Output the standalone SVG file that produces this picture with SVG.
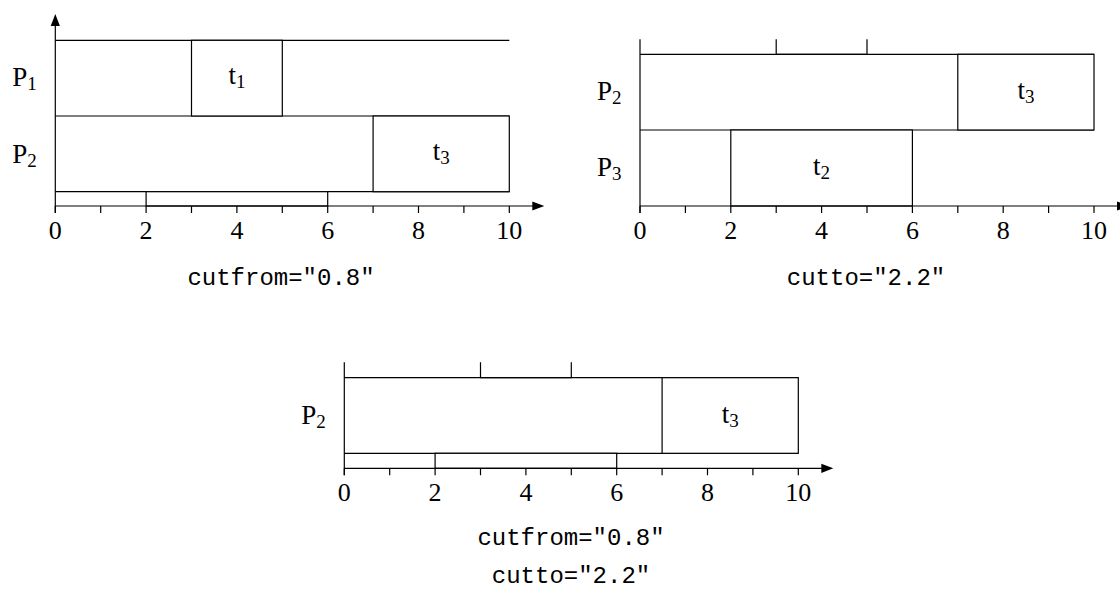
<svg xmlns="http://www.w3.org/2000/svg" width="1120" height="592" viewBox="0 0 1120 592">
<style>
.ln{stroke:#000;stroke-width:1.2;fill:none}
.bx{stroke:#000;stroke-width:1.2;fill:#fff}
.tk{stroke:#000;stroke-width:1.2}
.num{font-family:"Liberation Serif","DejaVu Serif",serif;font-size:26px;fill:#000;text-anchor:middle}
.lab{font-family:"Liberation Serif","DejaVu Serif",serif;font-size:27px;fill:#000}
.sub{font-size:19px}
.cap{font-family:"Liberation Mono","DejaVu Sans Mono",monospace;font-size:24px;fill:#000;text-anchor:middle}
.ah{fill:#000}
</style>
<defs>
<g id="ticks">
<line class="ln" x1="0" y1="0" x2="480" y2="0"/>
<polygon class="ah" points="477,-4.6 489,0 477,4.6"/>
<path class="tk" d="M0,0V7M45.4,0V7M90.8,0V7M136.2,0V7M181.6,0V7M227,0V7M272.4,0V7M317.8,0V7M363.2,0V7M408.6,0V7M454,0V7"/>
</g>
</defs>

<!-- Diagram 1: cutfrom -->
<g id="diagram1" transform="translate(55.3,206)">
<g id="d1-rows">
<line class="ln" x1="0" y1="-165.7" x2="454" y2="-165.7"/>
<line class="ln" x1="0" y1="-90" x2="454" y2="-90"/>
<line class="ln" x1="0" y1="-14.3" x2="454" y2="-14.3"/>
</g>
<g id="d1-t1"><rect class="bx" x="136.2" y="-165.7" width="90.8" height="75.7"/>
<text class="lab" x="181.6" y="-122" text-anchor="middle">t<tspan class="sub" dy="4">1</tspan></text></g>
<g id="d1-t3"><rect class="bx" x="317.8" y="-90" width="136.2" height="75.7"/>
<text class="lab" x="386" y="-46" text-anchor="middle">t<tspan class="sub" dy="4">3</tspan></text></g>
<g id="d1-t2"><rect class="bx" x="90.8" y="-14.3" width="181.6" height="14.3"/></g>
<g id="d1-axes">
<line class="ln" x1="0" y1="7" x2="0" y2="-181"/>
<polygon class="ah" points="-4.6,-180 0,-192 4.6,-180"/>
<use href="#ticks"/>
<text class="num" x="0" y="33">0</text>
<text class="num" x="90.8" y="33">2</text>
<text class="num" x="181.6" y="33">4</text>
<text class="num" x="272.4" y="33">6</text>
<text class="num" x="363.2" y="33">8</text>
<text class="num" x="454" y="33">10</text>
</g>
<text class="lab" x="-43" y="-120">P<tspan class="sub" dy="4">1</tspan></text>
<text class="lab" x="-43" y="-43">P<tspan class="sub" dy="4">2</tspan></text>
</g>
<text class="cap" x="281" y="285">cutfrom="0.8"</text>

<!-- Diagram 2: cutto -->
<g id="diagram2" transform="translate(640,206)">
<g id="d2-rows">
<line class="ln" x1="0" y1="-151.7" x2="454" y2="-151.7"/>
<line class="ln" x1="0" y1="-76" x2="454" y2="-76"/>
</g>
<g id="d2-t1"><path class="ln" d="M136.2,-166.7 V-151.7 H227 V-166.7"/></g>
<g id="d2-t3"><rect class="bx" x="317.8" y="-151.7" width="136.2" height="75.7"/>
<text class="lab" x="386" y="-107" text-anchor="middle">t<tspan class="sub" dy="4">3</tspan></text></g>
<g id="d2-t2"><rect class="bx" x="90.8" y="-76" width="181.6" height="76"/>
<text class="lab" x="181.6" y="-31" text-anchor="middle">t<tspan class="sub" dy="4">2</tspan></text></g>
<g id="d2-axes">
<line class="ln" x1="0" y1="7" x2="0" y2="-166.7"/>
<use href="#ticks"/>
<text class="num" x="0" y="33">0</text>
<text class="num" x="90.8" y="33">2</text>
<text class="num" x="181.6" y="33">4</text>
<text class="num" x="272.4" y="33">6</text>
<text class="num" x="363.2" y="33">8</text>
<text class="num" x="454" y="33">10</text>
</g>
<text class="lab" x="-43" y="-106">P<tspan class="sub" dy="4">2</tspan></text>
<text class="lab" x="-43" y="-30">P<tspan class="sub" dy="4">3</tspan></text>
</g>
<text class="cap" x="866" y="285">cutto="2.2"</text>

<!-- Diagram 3: cutfrom + cutto -->
<g id="diagram3" transform="translate(344.3,468.3)">
<g id="d3-rows">
<line class="ln" x1="0" y1="-90.6" x2="454" y2="-90.6"/>
<line class="ln" x1="0" y1="-15" x2="454" y2="-15"/>
</g>
<g id="d3-t1"><path class="ln" d="M136.2,-106 V-90.6 H227 V-106"/></g>
<g id="d3-t3"><rect class="bx" x="317.8" y="-90.6" width="136.2" height="75.6"/>
<text class="lab" x="386" y="-45" text-anchor="middle">t<tspan class="sub" dy="4">3</tspan></text></g>
<g id="d3-t2"><rect class="bx" x="90.8" y="-15" width="181.6" height="15"/></g>
<g id="d3-axes">
<line class="ln" x1="0" y1="7" x2="0" y2="-106"/>
<use href="#ticks"/>
<text class="num" x="0" y="33">0</text>
<text class="num" x="90.8" y="33">2</text>
<text class="num" x="181.6" y="33">4</text>
<text class="num" x="272.4" y="33">6</text>
<text class="num" x="363.2" y="33">8</text>
<text class="num" x="454" y="33">10</text>
</g>
<text class="lab" x="-43" y="-44">P<tspan class="sub" dy="4">2</tspan></text>
</g>
<text class="cap" x="571" y="545">cutfrom="0.8"</text>
<text class="cap" x="571" y="583">cutto="2.2"</text>
</svg>
